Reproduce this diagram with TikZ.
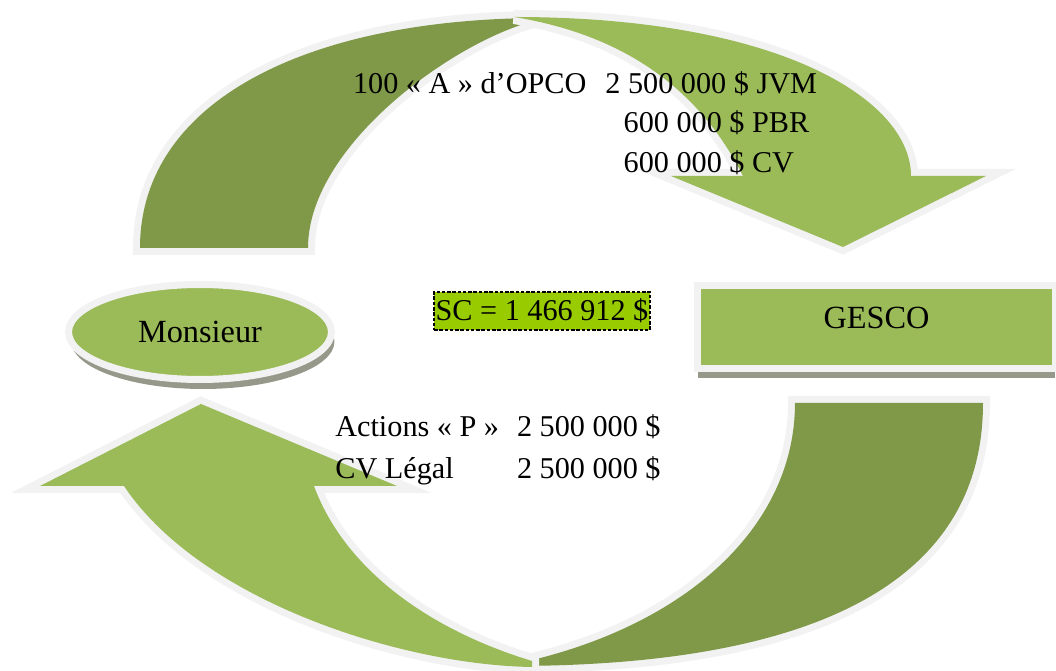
\documentclass[tikz,border=0pt]{standalone}
\usepackage{fontspec}
\setmainfont{Liberation Serif}
\usepackage{tikz}
\usetikzlibrary{shapes,shadows}
\definecolor{cycleDark}{RGB}{127,153,72}
\definecolor{cycleLight}{RGB}{155,187,89}
\definecolor{cycleRim}{RGB}{242,242,242}
\definecolor{cycleShade}{RGB}{150,152,138}
\definecolor{cycleLime}{RGB}{153,204,0}
\newcommand{\txtsize}{\fontsize{17.2}{20}\selectfont}
\newcommand{\boxsize}{\fontsize{18.4}{22}\selectfont}

\begin{document}
\begin{tikzpicture}[x=0.02cm,y=-0.02cm,
  horn/.style={fill=#1,preaction={draw=cycleRim,line width=0.28cm}},
  party/.style={draw=cycleRim,line width=0.14cm,fill=cycleLight,
                font=\boxsize,inner sep=0pt,
                drop shadow={shadow xshift=#1,shadow yshift=-0.19cm,
                             fill=cycleShade,opacity=1}},
  amt/.style={anchor=base west,font=\txtsize,inner sep=0pt}
]
\useasboundingbox (0,0) rectangle (1056,671);

% Top arrow: Monsieur -> GESCO
\path[horn=cycleDark] (140,248) .. controls (140,100) and (310,17) .. (548,18)
  .. controls (470,30) and (308,140) .. (308,248) -- cycle;
\path[horn=cycleLight] (514,17) .. controls (780,17) and (911,100) .. (911,176)
  -- (986,176) -- (843,247) -- (671,176) -- (743,176)
  .. controls (700,90) and (625,35) .. (514,17) -- cycle;

% Bottom arrow: GESCO -> Monsieur
\path[horn=cycleDark] (795,403) -- (983,403) .. controls (983,590) and (800,667) .. (505,666)
  .. controls (680,632) and (795,530) .. (795,403) -- cycle;
\path[horn=cycleLight] (532,667) .. controls (400,665) and (200,600) .. (124,486)
  -- (40,486) -- (201,404) -- (397,486) -- (314,486)
  .. controls (345,570) and (430,630) .. (532,661) -- cycle;

% Parties
\node[party=0.06cm,ellipse,minimum width=5.26cm,minimum height=1.9cm]
  (monsieur) at (200,332) {Monsieur};
\node[party=0cm,rectangle,minimum width=7.16cm,minimum height=1.66cm,text depth=0.38cm]
  (gesco) at (876.5,327) {GESCO};

% Capital
\node[draw=black,dash pattern=on 2pt off 1pt,line width=0.7pt,fill=cycleLime,
      font=\txtsize,inner sep=0pt,minimum width=4.32cm,minimum height=0.76cm]
  (sc) at (542,311) {SC = 1 466 912 \$};

% Amounts
\foreach \nm/\px/\py/\txt in {
  opco/352.7/93.3/{100 « A » d’OPCO\hspace{0.38em} 2 500 000 \$ JVM},
  pbr/623.3/132.7/{600 000 \$ PBR},
  cv/623.3/172.7/{600 000 \$ CV},
  actp/335/436.7/{Actions « P »},
  actpamt/516.7/436.7/{2 500 000 \$},
  legal/335/478.3/{CV Légal},
  legalamt/516.7/478.3/{2 500 000 \$}}
{
  \node[amt] (\nm) at (\px,\py) {\txt};
}
\end{tikzpicture}
\end{document}
